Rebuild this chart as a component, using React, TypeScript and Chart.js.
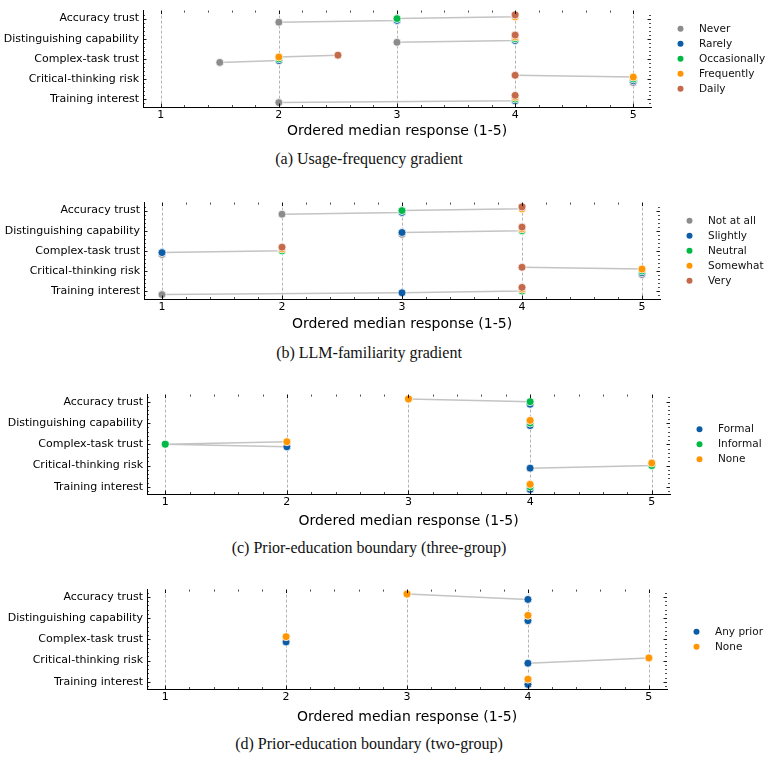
import React, { useEffect, useRef } from "react";
import { Chart, registerables } from "chart.js";

Chart.register(...registerables);

// ---------- data ----------
const METRICS = [
  "Accuracy trust",
  "Distinguishing capability",
  "Complex-task trust",
  "Critical-thinking risk",
  "Training interest",
];
const X_TICKS = [1, 2, 3, 4, 5];
const X_TITLE = "Ordered median response (1-5)";

// (a) usage frequency
const usageGroups = ["Never", "Rarely", "Occasionally", "Frequently", "Daily"];
const usageNever = [2, 3, 1.5, 5, 2];
const usageRarely = [3, 4, 2, 5, 4];
const usageOccasionally = [3, 4, 2, 5, 4];
const usageFrequently = [4, 4, 2, 5, 4];
const usageDaily = [4, 4, 2.5, 4, 4];

// (b) LLM familiarity
const famGroups = ["Not at all", "Slightly", "Neutral", "Somewhat", "Very"];
const famNotAtAll = [2, 3, 1, 5, 1];
const famSlightly = [3, 3, 1, 5, 3];
const famNeutral = [3, 4, 2, 5, 4];
const famSomewhat = [4, 4, 2, 5, 4];
const famVery = [4, 4, 2, 4, 4];

// (c) prior education, three groups
const edu3Groups = ["Formal", "Informal", "None"];
const edu3Formal = [4, 4, 2, 4, 4];
const edu3Informal = [4, 4, 1, 5, 4];
const edu3None = [3, 4, 2, 5, 4];

// (d) prior education, two groups
const edu2Groups = ["Any prior", "None"];
const edu2AnyPrior = [4, 4, 2, 4, 4];
const edu2None = [3, 4, 2, 5, 4];

const CAPTIONS = [
  "(a) Usage-frequency gradient",
  "(b) LLM-familiarity gradient",
  "(c) Prior-education boundary (three-group)",
  "(d) Prior-education boundary (two-group)",
];

// ---------- styles ----------
const GRAY = "#8c8c8c";
const BLUE = "#0C5DA5";
const GREEN = "#00B945";
const ORANGE = "#FF9500";
const BROWN = "#C4694A";
const SANS = "'DejaVu Sans', sans-serif";
const SERIF = "'Liberation Serif', serif";

const decor = {
  id: "decor",
  beforeDatasetsDraw(chart: any) {
    const { ctx, chartArea: a, scales } = chart;
    const x = scales.x;
    ctx.save();
    ctx.strokeStyle = "#a0a0a0";
    ctx.lineWidth = 0.8;
    ctx.setLineDash([3, 2]);
    for (const v of X_TICKS) {
      const px = Math.round(x.getPixelForValue(v)) + 0.5;
      ctx.beginPath();
      ctx.moveTo(px, a.top);
      ctx.lineTo(px, a.bottom);
      ctx.stroke();
    }
    ctx.restore();
  },
  afterDraw(chart: any, _args: any, opts: any) {
    const { ctx, chartArea: a, scales } = chart;
    const x = scales.x;
    const y = scales.y;
    ctx.save();
    ctx.strokeStyle = "#000";
    const MAJ = 3.5;
    const MIN = 2;
    // x ticks (bottom + top)
    const x0 = Math.ceil(x.min * 5);
    const x1 = Math.floor(x.max * 5);
    for (let k = x0; k <= x1; k++) {
      const major = k % 5 === 0;
      const v = k / 5;
      const px = Math.round(x.getPixelForValue(v)) + 0.5;
      const len = major ? MAJ : MIN;
      ctx.lineWidth = major ? 0.9 : 0.7;
      ctx.beginPath();
      ctx.moveTo(px, a.bottom);
      ctx.lineTo(px, a.bottom - len);
      ctx.moveTo(px, a.top);
      ctx.lineTo(px, a.top + len);
      ctx.stroke();
    }
    // y ticks (left + right)
    const y0 = Math.ceil(y.min * 5);
    const y1 = Math.floor(y.max * 5);
    for (let k = y0; k <= y1; k++) {
      const major = k % 5 === 0;
      const v = k / 5;
      const py = Math.round(y.getPixelForValue(v)) + 0.5;
      const len = major ? MAJ : MIN;
      ctx.lineWidth = major ? 0.9 : 0.7;
      ctx.beginPath();
      ctx.moveTo(a.left, py);
      ctx.lineTo(a.left + len, py);
      ctx.moveTo(a.right, py);
      ctx.lineTo(a.right - len, py);
      ctx.stroke();
    }
    // legend
    const items = chart.data.datasets.filter((d: any) => !d.isLink);
    const rowH = 15;
    const cy = (a.top + a.bottom) / 2;
    const startY = cy - ((items.length - 1) * rowH) / 2;
    ctx.font = `10.5px ${SANS}`;
    ctx.textBaseline = "middle";
    ctx.textAlign = "left";
    items.forEach((d: any, i: number) => {
      const yy = startY + i * rowH;
      ctx.beginPath();
      ctx.fillStyle = d.backgroundColor;
      ctx.arc(a.right + opts.dotDx, yy, 3, 0, Math.PI * 2);
      ctx.fill();
      ctx.fillStyle = "#111";
      ctx.fillText(d.label, a.right + opts.textDx, yy);
    });
    ctx.restore();
  },
};

type Geo = { L: number; R: number; T: number; B: number; titleY: number; capY: number };

function Panel(props: {
  geo: Geo;
  groups: string[];
  series: number[][];
  colors: string[];
  step: number;
  caption: string;
}) {
  const { geo, groups, series, colors, step, caption } = props;
  const ref = useRef<HTMLCanvasElement>(null);
  const top = geo.T - 6;
  const height = geo.titleY + 10 - top;

  useEffect(() => {
    const n = groups.length;
    const center = (n - 1) / 2;
    const offs = groups.map((_, i) => (center - i) * step);
    const yPad = center * step;
    const margin = 0.05 * (4 + 2 * yPad);

    const linkSets = METRICS.map((_, mi) => ({
      label: "",
      isLink: true,
      data: groups.map((_, gi) => ({ x: series[gi][mi], y: mi + offs[gi] })),
      showLine: true,
      borderColor: "#c4c4c4",
      borderWidth: 1.5,
      pointRadius: 0,
      backgroundColor: "transparent",
      order: 100,
    }));
    const groupSets = groups.map((name, gi) => ({
      label: name,
      data: METRICS.map((_, mi) => ({ x: series[gi][mi], y: mi + offs[gi] })),
      backgroundColor: colors[gi],
      borderColor: "#ffffff",
      borderWidth: 0.8,
      pointRadius: 4,
      order: 10 - gi,
    }));

    const chart = new Chart(ref.current as HTMLCanvasElement, {
      type: "scatter",
      data: { datasets: [...linkSets, ...groupSets] as any },
      options: {
        animation: false,
        responsive: false,
        devicePixelRatio: 1,
        layout: { padding: { top: 6, left: 0, right: 768 - geo.R, bottom: 0 } },
        plugins: {
          legend: { display: false },
          tooltip: { enabled: false },
          decor: { dotDx: 29.5, textDx: 48 },
        } as any,
        scales: {
          x: {
            type: "linear",
            min: 0.85,
            max: 5.15,
            afterBuildTicks: (s: any) => {
              s.ticks = X_TICKS.map((v) => ({ value: v }));
            },
            afterFit: (s: any) => {
              s.height = height - (geo.B - top);
            },
            grid: { display: false, drawTicks: false },
            border: { display: true, color: "#000", width: 1 },
            ticks: {
              padding: 1.5,
              color: "#000",
              font: { family: SANS, size: 11 },
              callback: (v: any) => String(v),
            },
            title: {
              display: true,
              text: X_TITLE,
              color: "#000",
              font: { family: SANS, size: 14 },
              padding: { top: 0, bottom: 1.6 },
            },
          },
          y: {
            type: "linear",
            reverse: true,
            min: -yPad - margin,
            max: 4 + yPad + margin,
            afterBuildTicks: (s: any) => {
              s.ticks = METRICS.map((_, i) => ({ value: i }));
            },
            afterFit: (s: any) => {
              s.width = geo.L;
            },
            grid: { display: false, drawTicks: false },
            border: { display: true, color: "#000", width: 1 },
            ticks: {
              padding: 4,
              color: "#000",
              font: { family: SANS, size: 11 },
              callback: (v: any) => METRICS[Math.round(v)] ?? "",
            },
          },
        },
      },
      plugins: [decor as any],
    });
    return () => chart.destroy();
  }, []);

  return (
    <>
      <canvas
        ref={ref}
        width={768}
        height={height}
        style={{ position: "absolute", left: 0, top, width: 768, height }}
      />
      <div
        style={{
          position: "absolute",
          left: 0,
          width: 738,
          top: geo.capY - 10,
          height: 20,
          lineHeight: "20px",
          textAlign: "center",
          fontFamily: SERIF,
          fontSize: 16,
          color: "#111",
        }}
      >
        {caption}
      </div>
    </>
  );
}

export default function App() {
  return (
    <div
      style={{
        position: "absolute",
        left: 0,
        top: 0,
        width: 768,
        height: 759,
        background: "#fff",
        overflow: "hidden",
      }}
    >
      <Panel
        geo={{ L: 143, R: 651, T: 6, B: 107, titleY: 131, capY: 159 }}
        groups={usageGroups}
        series={[usageNever, usageRarely, usageOccasionally, usageFrequently, usageDaily]}
        colors={[GRAY, BLUE, GREEN, ORANGE, BROWN]}
        step={0.09}
        caption={CAPTIONS[0]}
      />
      <Panel
        geo={{ L: 144, R: 660, T: 198, B: 299, titleY: 324, capY: 353 }}
        groups={famGroups}
        series={[famNotAtAll, famSlightly, famNeutral, famSomewhat, famVery]}
        colors={[GRAY, BLUE, GREEN, ORANGE, BROWN]}
        step={0.09}
        caption={CAPTIONS[1]}
      />
      <Panel
        geo={{ L: 147, R: 670, T: 390, B: 494, titleY: 521, capY: 548 }}
        groups={edu3Groups}
        series={[edu3Formal, edu3Informal, edu3None]}
        colors={[BLUE, GREEN, ORANGE]}
        step={0.12}
        caption={CAPTIONS[2]}
      />
      <Panel
        geo={{ L: 147, R: 667, T: 585, B: 689, titleY: 717, capY: 744 }}
        groups={edu2Groups}
        series={[edu2AnyPrior, edu2None]}
        colors={[BLUE, ORANGE]}
        step={0.25}
        caption={CAPTIONS[3]}
      />
    </div>
  );
}
